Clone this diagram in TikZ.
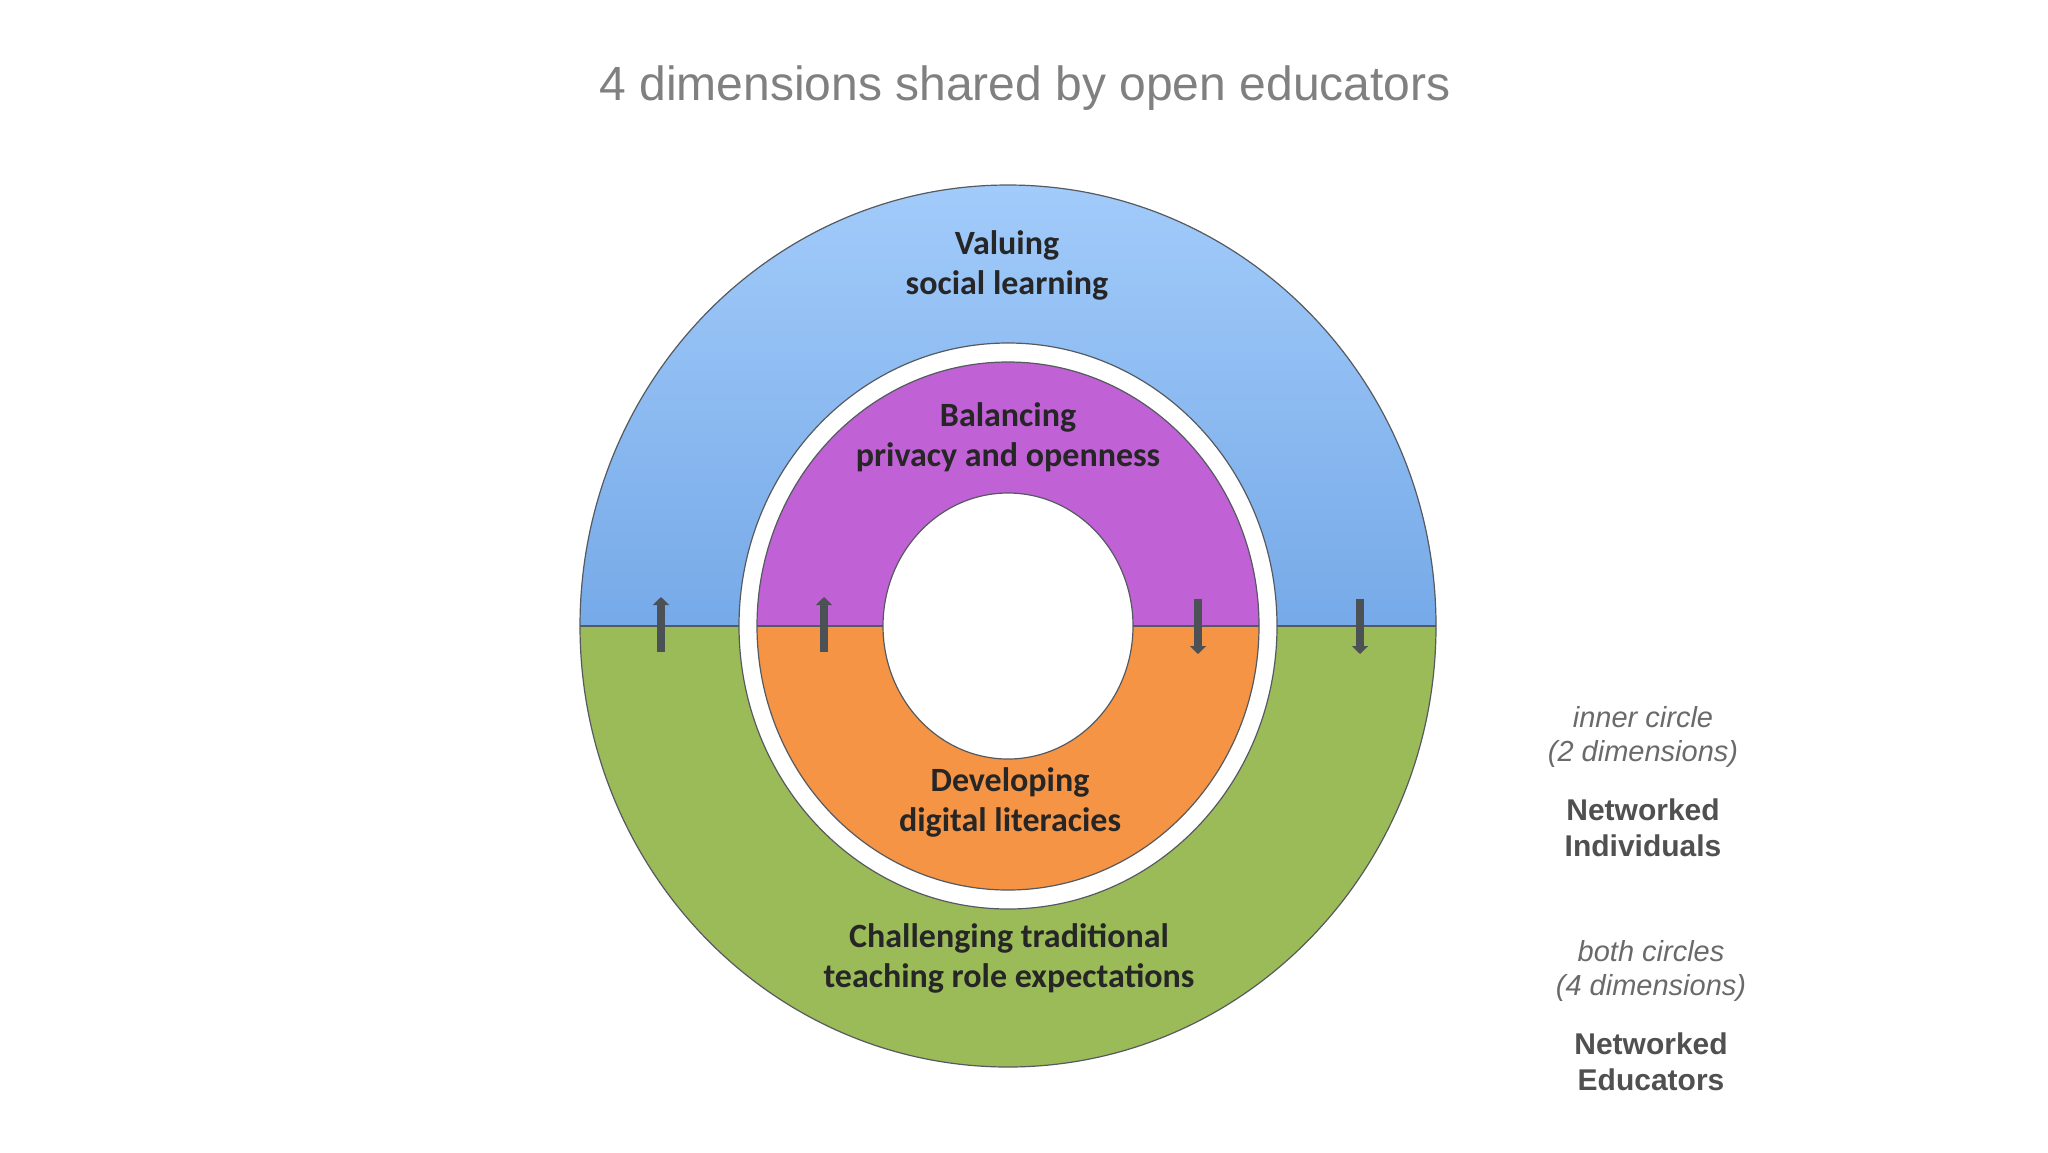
\documentclass[tikz,border=0pt]{standalone}
\usepackage{fontspec}
\setmainfont{Liberation Sans}
\newfontfamily\carlitofont{Carlito}
\usetikzlibrary{arrows.meta}
\definecolor{ttl}{HTML}{808080}
\definecolor{grn}{HTML}{9BBB59}
\definecolor{pur}{HTML}{C061D5}
\definecolor{org}{HTML}{F59444}
\definecolor{bltop}{HTML}{A2CBFA}
\definecolor{blbot}{HTML}{4A88D6}
\definecolor{edge}{HTML}{555A60}
\definecolor{note}{HTML}{6A6A6A}
\definecolor{notebf}{HTML}{505050}
\tikzset{
 lbl/.style={font=\carlitofont\bfseries\fontsize{17}{20}\selectfont, text=black!85, align=center},
 nt/.style={font=\itshape\fontsize{14.5}{17}\selectfont, text=note, align=center},
 nb/.style={font=\bfseries\fontsize{15}{18}\selectfont, text=notebf, align=center},
 arr/.style={draw=edge!90!black, line width=4pt, -{Triangle[length=4pt,width=8pt]}}
}
\begin{document}
\begin{tikzpicture}[x=0.5pt,y=-0.5pt]
\useasboundingbox[fill=white] (0,0) rectangle (2048,1152);
\node[font=\fontsize{24}{28}\selectfont, text=ttl] (title) at (1025,88) {4 dimensions shared by open educators};
\coordinate (c) at (1008,626);
% outer ring
\fill[grn] (c) ellipse [x radius=428, y radius=441];
\begin{scope}
\clip (500,150) rectangle (1500,626);
\shade[top color=bltop, bottom color=blbot] (c) ellipse [x radius=428, y radius=441];
\end{scope}
\fill[white] (c) ellipse [x radius=269, y radius=283];
\draw[edge, line width=0.6pt] (c) ellipse [x radius=428, y radius=441];
\draw[edge, line width=0.6pt] (c) ellipse [x radius=269, y radius=283];
% inner ring
\fill[org] (c) ellipse [x radius=251, y radius=264];
\begin{scope}
\clip (700,300) rectangle (1300,626);
\fill[pur] (c) ellipse [x radius=251, y radius=264];
\end{scope}
\fill[white] (c) ellipse [x radius=125, y radius=133];
\draw[edge, line width=0.6pt] (c) ellipse [x radius=251, y radius=264];
\draw[edge, line width=0.6pt] (c) ellipse [x radius=125, y radius=133];
% dividers
\draw[edge, line width=0.6pt] (580,626) -- (739,626);
\draw[edge, line width=0.6pt] (757,626) -- (883,626);
\draw[edge, line width=0.6pt] (1133,626) -- (1259,626);
\draw[edge, line width=0.6pt] (1277,626) -- (1436,626);
% arrows
\coordinate (a1s) at (661,652); \coordinate (a1e) at (661,597);
\coordinate (a2s) at (824,652); \coordinate (a2e) at (824,597);
\coordinate (a3s) at (1198,599); \coordinate (a3e) at (1198,654);
\coordinate (a4s) at (1360,599); \coordinate (a4e) at (1360,654);
\draw[arr] (a1s) -- (a1e);
\draw[arr] (a2s) -- (a2e);
\draw[arr] (a3s) -- (a3e);
\draw[arr] (a4s) -- (a4e);
% labels
\node[lbl] (v) at (1007,265) {Valuing\\social learning};
\node[lbl] (b) at (1008,437) {Balancing\\privacy and openness};
\node[lbl] (d) at (1010,802) {Developing\\digital literacies};
\node[lbl] (ch) at (1009,958) {Challenging traditional\\teaching role expectations};
% notes
\node[nt] (n1) at (1643,737) {inner circle\\(2 dimensions)};
\node[nb] (n2) at (1643,828) {Networked\\Individuals};
\node[nt] (n3) at (1651,971) {both circles\\(4 dimensions)};
\node[nb] (n4) at (1651,1062) {Networked\\Educators};
\end{tikzpicture}
\end{document}
